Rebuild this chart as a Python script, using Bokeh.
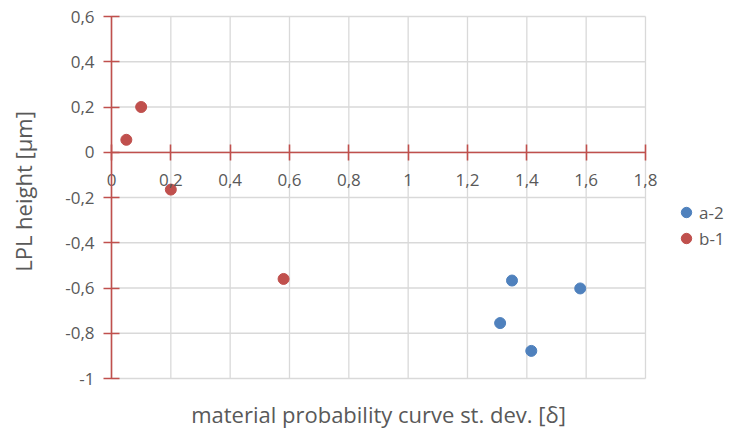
from bokeh.plotting import figure
from bokeh.models import (FixedTicker, CustomJSTickFormatter, Legend, LegendItem,
                          Range1d, Label)
from bokeh.embed import file_html
from bokeh.resources import INLINE
import math

# ---- data ----
a2_x = [1.35, 1.58, 1.31, 1.415]
a2_y = [-0.567, -0.602, -0.755, -0.878]
b1_x = [0.05, 0.10, 0.20, 0.58]
b1_y = [0.055, 0.20, -0.165, -0.56]
x_ticks = [0, 0.2, 0.4, 0.6, 0.8, 1.0, 1.2, 1.4, 1.6, 1.8]
y_ticks = [-1.0, -0.8, -0.6, -0.4, -0.2, 0, 0.2, 0.4, 0.6]
x_title = "material probability curve st. dev. [δ]"
y_title = "LPL height [µm]"
series_names = ["a-2", "b-1"]

# ---- style ----
RED = "#c0504d"
BLUE = "#4f81bd"
TXT = "#595959"
GRID = "#d9d9d9"
FONT = "Open Sans"
W, H = 732, 432
# pixel layout of the data area inside the canvas
PX_L, PX_R, PX_T, PX_B = 111, 645, 16, 378

xmin, xmax = x_ticks[0], x_ticks[-1]
ymin, ymax = y_ticks[0], y_ticks[-1]
sx = (PX_R - PX_L) / (xmax - xmin)
sy = (PX_B - PX_T) / (ymax - ymin)
x_start = xmin - PX_L / sx
x_end = xmax + (W - PX_R) / sx
y_end = ymax + PX_T / sy
y_start = ymin - (H - PX_B) / sy

p = figure(width=W, height=H, output_backend="svg", toolbar_location=None,
           x_range=Range1d(x_start, x_end), y_range=Range1d(y_start, y_end),
           min_border=0)
p.outline_line_color = None
p.xgrid.visible = False
p.ygrid.visible = False

# grid lines limited to the data area
p.segment(x0=x_ticks, y0=[ymin] * len(x_ticks), x1=x_ticks, y1=[ymax] * len(x_ticks),
          line_color=GRID, line_width=1.3)
p.segment(x0=[xmin] * len(y_ticks), y0=y_ticks, x1=[xmax] * len(y_ticks), y1=y_ticks,
          line_color=GRID, line_width=1.3)

fmt = CustomJSTickFormatter(code="var s = Number(tick.toFixed(1)).toString(); return s.replace('.', ',');")

for ax, ticks in ((p.xaxis[0], x_ticks), (p.yaxis[0], y_ticks)):
    ax.ticker = FixedTicker(ticks=ticks)
    ax.formatter = fmt
    ax.fixed_location = 0
    ax.bounds = (ticks[0], ticks[-1])
    ax.axis_line_color = RED
    ax.axis_line_width = 1.6
    ax.major_tick_line_color = RED
    ax.major_tick_line_width = 1.6
    ax.major_tick_in = 8
    ax.major_tick_out = 8
    ax.minor_tick_line_color = None
    ax.major_label_text_font = FONT
    ax.major_label_text_font_size = "17px"
    ax.major_label_text_color = TXT
p.xaxis[0].major_label_standoff = 14
p.yaxis[0].major_label_standoff = 9

# axis titles
p.add_layout(Label(x=(xmin + xmax) / 2, y=ymin - (413 - PX_B) / sy, text=x_title,
                   text_align="center", text_baseline="middle",
                   text_font=FONT, text_font_size="22px", text_color=TXT))
p.add_layout(Label(x=xmin - (PX_L - 22) / sx, y=ymin + (PX_B - 191) / sy, text=y_title,
                   angle=math.pi / 2, text_align="center", text_baseline="middle",
                   text_font=FONT, text_font_size="22px", text_color=TXT))

ra = p.scatter(a2_x, a2_y, size=11, color=BLUE, line_color=BLUE)
rb = p.scatter(b1_x, b1_y, size=11, color=RED, line_color=RED)

leg = Legend(items=[LegendItem(label=series_names[0], renderers=[ra]),
                    LegendItem(label=series_names[1], renderers=[rb])],
             location=(673, 181), orientation="vertical",
             padding=0, margin=0, spacing=0, glyph_width=26, glyph_height=26,
             label_height=18, label_standoff=0,
             label_text_font=FONT, label_text_font_size="17px",
             label_text_color=TXT, border_line_color=None,
             background_fill_alpha=0)
p.add_layout(leg, "center")

open("out.html", "w").write(file_html(p, INLINE))
